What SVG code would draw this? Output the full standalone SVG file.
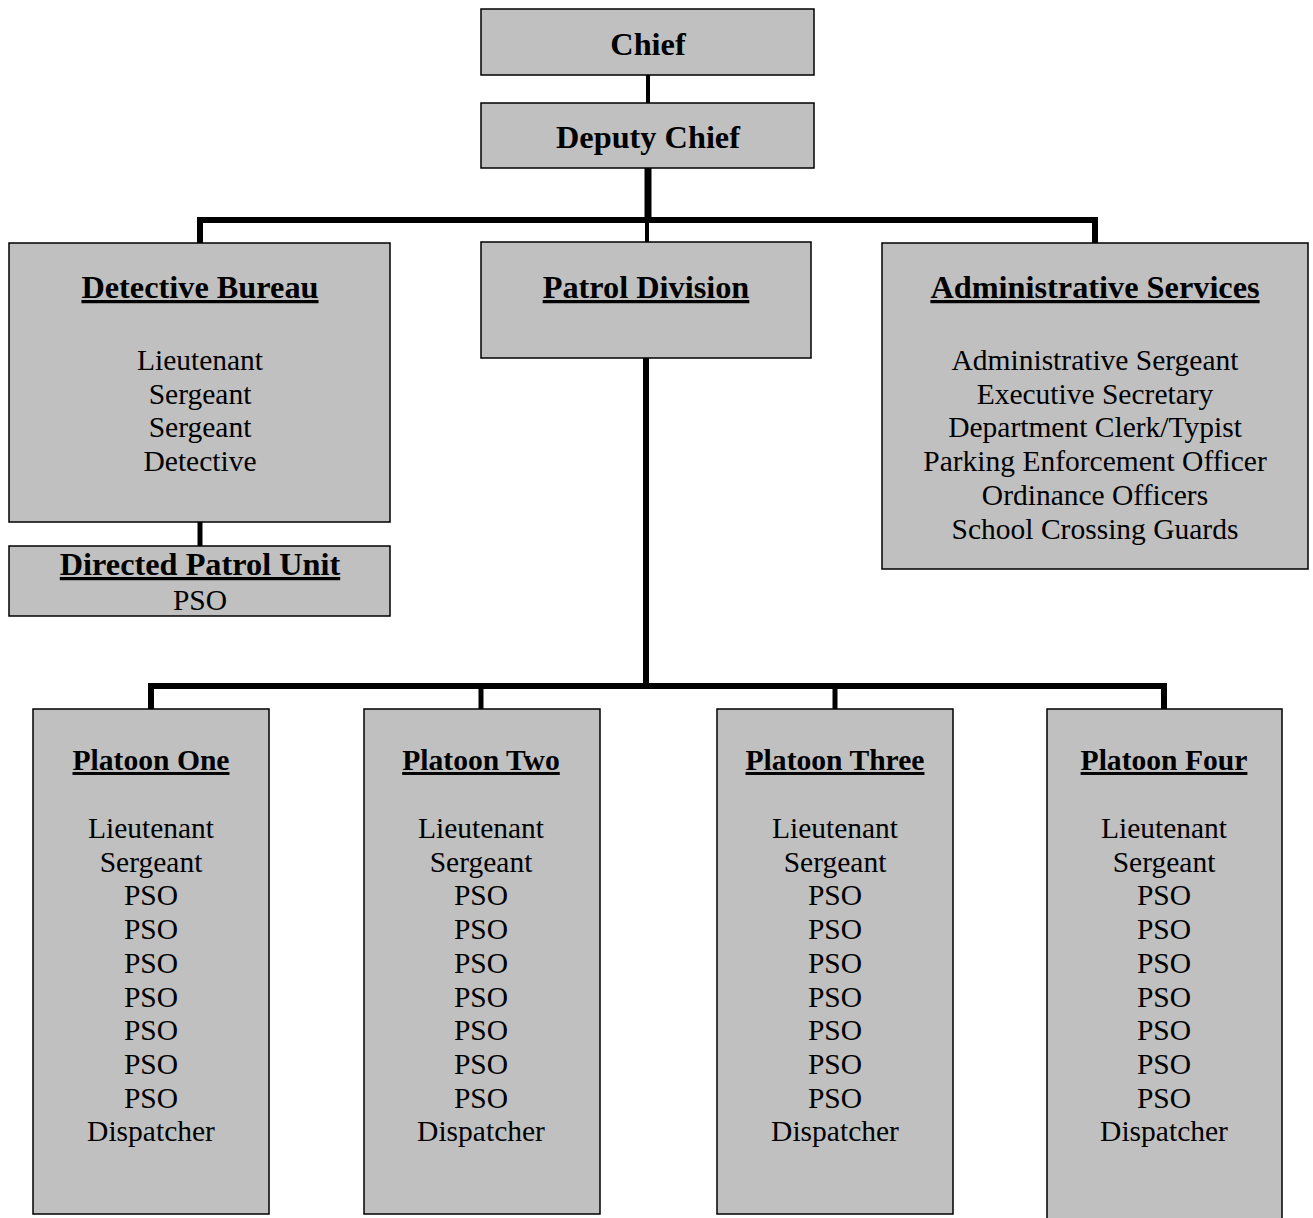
<svg xmlns="http://www.w3.org/2000/svg" width="1313" height="1218" viewBox="0 0 1313 1218">
<style>
.box{fill:#c0c0c0;stroke:#000;stroke-width:1.5}
.t{font-family:"Liberation Serif","Times New Roman",serif;text-anchor:middle;fill:#000}
.h{font-size:32.3px;font-weight:bold}
.hu{font-size:32.3px;font-weight:bold;text-decoration:underline}
.pu{font-size:29.6px;font-weight:bold;text-decoration:underline}
.r{font-size:29.5px}
.c{stroke:#000;fill:none;stroke-linecap:butt}
</style>
<rect width="1313" height="1218" fill="#fff"/>
<g id="connectors">
<line class="c" x1="648" y1="75" x2="648" y2="103" stroke-width="4"/>
<line class="c" x1="648" y1="168" x2="648" y2="220" stroke-width="7"/>
<polyline class="c" points="200,243 200,220 1095,220 1095,243" stroke-width="6"/>
<line class="c" x1="647" y1="220" x2="647" y2="242" stroke-width="4"/>
<line class="c" x1="200" y1="522" x2="200" y2="546" stroke-width="5"/>
<line class="c" x1="646" y1="358" x2="646" y2="686" stroke-width="6"/>
<polyline class="c" points="151,709 151,686 1164,686 1164,709" stroke-width="6"/>
<line class="c" x1="481" y1="686" x2="481" y2="709" stroke-width="5"/>
<line class="c" x1="835" y1="686" x2="835" y2="709" stroke-width="5"/>
</g>
<g id="chief">
<rect class="box" x="481" y="9" width="333" height="66"/>
<text class="t h" x="648" y="55">Chief</text>
</g>
<g id="deputy-chief">
<rect class="box" x="481" y="103" width="333" height="65"/>
<text class="t h" x="648" y="148">Deputy Chief</text>
</g>
<g id="detective-bureau">
<rect class="box" x="9" y="243" width="381" height="279"/>
<text class="t hu" x="200" y="298">Detective Bureau</text>
<text class="t r" x="200" y="370">Lieutenant</text>
<text class="t r" x="200" y="403.7">Sergeant</text>
<text class="t r" x="200" y="437.4">Sergeant</text>
<text class="t r" x="200" y="471.1">Detective</text>
</g>
<g id="directed-patrol-unit">
<rect class="box" x="9" y="546" width="381" height="70"/>
<text class="t hu" x="200" y="575">Directed Patrol Unit</text>
<text class="t r" x="200" y="610">PSO</text>
</g>
<g id="patrol-division">
<rect class="box" x="481" y="242" width="330" height="116"/>
<text class="t hu" x="646" y="298">Patrol Division</text>
</g>
<g id="administrative-services">
<rect class="box" x="882" y="243" width="426" height="326"/>
<text class="t hu" x="1095" y="298">Administrative Services</text>
<text class="t r" x="1095" y="370">Administrative Sergeant</text>
<text class="t r" x="1095" y="403.7">Executive Secretary</text>
<text class="t r" x="1095" y="437.4">Department Clerk/Typist</text>
<text class="t r" x="1095" y="471.1">Parking Enforcement Officer</text>
<text class="t r" x="1095" y="504.8">Ordinance Officers</text>
<text class="t r" x="1095" y="538.5">School Crossing Guards</text>
</g>
<g id="platoon-one">
<rect class="box" x="33" y="709" width="236" height="505"/>
<text class="t pu" x="151" y="770">Platoon One</text>
<text class="t r" x="151" y="838">Lieutenant</text>
<text class="t r" x="151" y="871.7">Sergeant</text>
<text class="t r" x="151" y="905.4">PSO</text>
<text class="t r" x="151" y="939.1">PSO</text>
<text class="t r" x="151" y="972.8">PSO</text>
<text class="t r" x="151" y="1006.5">PSO</text>
<text class="t r" x="151" y="1040.2">PSO</text>
<text class="t r" x="151" y="1073.9">PSO</text>
<text class="t r" x="151" y="1107.6">PSO</text>
<text class="t r" x="151" y="1141.3">Dispatcher</text>
</g>
<g id="platoon-two">
<rect class="box" x="364" y="709" width="236" height="505"/>
<text class="t pu" x="481" y="770">Platoon Two</text>
<text class="t r" x="481" y="838">Lieutenant</text>
<text class="t r" x="481" y="871.7">Sergeant</text>
<text class="t r" x="481" y="905.4">PSO</text>
<text class="t r" x="481" y="939.1">PSO</text>
<text class="t r" x="481" y="972.8">PSO</text>
<text class="t r" x="481" y="1006.5">PSO</text>
<text class="t r" x="481" y="1040.2">PSO</text>
<text class="t r" x="481" y="1073.9">PSO</text>
<text class="t r" x="481" y="1107.6">PSO</text>
<text class="t r" x="481" y="1141.3">Dispatcher</text>
</g>
<g id="platoon-three">
<rect class="box" x="717" y="709" width="236" height="505"/>
<text class="t pu" x="835" y="770">Platoon Three</text>
<text class="t r" x="835" y="838">Lieutenant</text>
<text class="t r" x="835" y="871.7">Sergeant</text>
<text class="t r" x="835" y="905.4">PSO</text>
<text class="t r" x="835" y="939.1">PSO</text>
<text class="t r" x="835" y="972.8">PSO</text>
<text class="t r" x="835" y="1006.5">PSO</text>
<text class="t r" x="835" y="1040.2">PSO</text>
<text class="t r" x="835" y="1073.9">PSO</text>
<text class="t r" x="835" y="1107.6">PSO</text>
<text class="t r" x="835" y="1141.3">Dispatcher</text>
</g>
<g id="platoon-four">
<rect class="box" x="1047" y="709" width="235" height="520"/>
<text class="t pu" x="1164" y="770">Platoon Four</text>
<text class="t r" x="1164" y="838">Lieutenant</text>
<text class="t r" x="1164" y="871.7">Sergeant</text>
<text class="t r" x="1164" y="905.4">PSO</text>
<text class="t r" x="1164" y="939.1">PSO</text>
<text class="t r" x="1164" y="972.8">PSO</text>
<text class="t r" x="1164" y="1006.5">PSO</text>
<text class="t r" x="1164" y="1040.2">PSO</text>
<text class="t r" x="1164" y="1073.9">PSO</text>
<text class="t r" x="1164" y="1107.6">PSO</text>
<text class="t r" x="1164" y="1141.3">Dispatcher</text>
</g>
</svg>
